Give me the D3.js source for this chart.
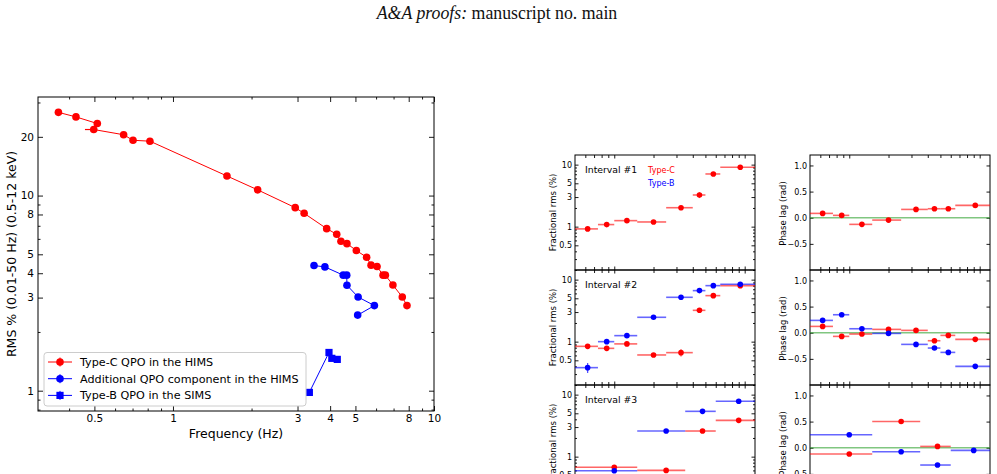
<!DOCTYPE html>
<html><head><meta charset="utf-8">
<script src="https://cdn.jsdelivr.net/npm/d3@7"></script>
<style>
body{margin:0;background:#fff;overflow:hidden;}
svg{display:block;font-family:"DejaVu Sans",sans-serif;}
</style></head><body>
<svg id="c" width="997" height="474"></svg>
<script>
// ---------- Left chart data ----------
const typeCFreq = [0.364,0.425,0.513,0.497,0.647,0.703,0.816,1.61,2.11,2.94,3.18,3.88,4.24,4.40,4.64,5.04,5.52,5.74,6.05,6.38,6.51,6.96,7.56,7.88];
const typeCRms  = [26.7,25.3,23.4,21.8,20.5,19.2,19.0,12.6,10.7,8.67,8.11,6.77,6.33,5.83,5.67,5.23,4.83,4.40,4.33,3.91,3.91,3.48,3.02,2.73];
const typeCFreqErrLo = [0,0,0,0.037,0,0,0,0,0,0,0,0,0,0,0,0,0,0,0,0,0,0,0,0];
const addlFreq = [3.47,3.82,4.49,4.63,4.64,5.12,5.91,5.10];
const addlRms  = [4.38,4.31,3.91,3.91,3.47,3.02,2.73,2.44];
const typeBFreq = [3.33,3.96,4.06,4.26];
const typeBRms  = [0.98,1.57,1.465,1.447];
const leftXTicks = [0.5,1,3,4,5,8,10];
const leftXMinor = [0.4,0.6,0.7,0.8,0.9,2,6,7,9];
const leftYTicks = [1,3,4,5,8,10,20];
const leftYMinor = [0.8,0.9,2,6,7,9,30];
const legendLabels = ["Type-C QPO in the HIMS","Additional QPO component in the HIMS","Type-B QPO in the SIMS"];

// ---------- Right panels data (energy keV) ----------
const binLoA = [0.5,0.75,1,1.5,2.5,4,5,6.5];
const binHiA = [0.75,1,1.5,2.5,4,5,6.5,12];
const binLoB = [0.5,1.5,3.5,6];
const binHiB = [1.5,3.5,6,12];
const int1RmsC = [0.92,1.08,1.25,1.19,2.02,3.24,7.07,9.06];
const int1RmsCErr = [0.04,0.04,0.05,0.05,0.08,0.35,0.3,0.35];
const int1LagC = [0.083,0.045,-0.127,-0.045,0.159,0.172,0.172,0.236];
const int1LagCErr = [0.03,0.03,0.02,0.04,0.04,0.04,0.04,0.03];
const int2RmsC = [0.84,0.78,0.92,0.61,0.665,3.20,5.52,8.0];
const int2RmsCErr = [0.04,0.04,0.05,0.04,0.09,0.2,0.3,0.4];
const int2RmsB = [0.381,1.0,1.25,2.47,5.19,6.65,8.0,8.41];
const int2RmsBErr = [0.07,0.05,0.05,0.1,0.2,0.3,0.3,0.4];
const int2LagC = [0.121,-0.070,-0.025,0.064,0.045,-0.153,-0.051,-0.127];
const int2LagB = [0.236,0.344,0.076,-0.013,-0.223,-0.293,-0.376,-0.643];
const int3RmsC = [0.673,0.60,2.59,3.85];
const int3RmsB = [0.594,2.59,5.38,7.81];
const int3LagC = [-0.121,0.503,0.025,null];
const int3LagB = [0.248,-0.076,-0.331,-0.051];
const intervalNames = ["Interval #1","Interval #2","Interval #3"];
const rmsTicks = [0.5,1,3,5,10];
const rmsMinor = [0.2,0.3,0.4,0.6,0.7,0.8,0.9,2,4,6,7,8,9];
const lagTicks = [-0.5,0,0.5,1.0];
const eTicks = [1,10];
const eMinor = [0.6,0.7,0.8,0.9,2,3,4,5,6,7,8,9];

const RED="#ff0000", BLUE="#0000ff";
const svg = d3.select("#c");

// ---------- Header ----------
const hdr = svg.append("text").attr("x",497).attr("y",19).attr("text-anchor","middle")
  .style("font-family","'Liberation Serif','Times New Roman',serif").style("font-size","17.8px").attr("fill","#111");
hdr.append("tspan").style("font-style","italic").text("A&A proofs:");
hdr.append("tspan").text(" manuscript no. main");

// ---------- Left chart ----------
const L = {x:38,y:97,w:396,h:314};
const x = d3.scaleLog().domain([0.304,10]).range([L.x,L.x+L.w]);
const y = d3.scaleLog().domain([0.787,32]).range([L.y+L.h,L.y]);
const g = svg.append("g");
function styleAxis(sel, fs){
  sel.select(".domain").remove();
  sel.selectAll("line").attr("stroke","#000").attr("stroke-width",0.9);
  sel.selectAll("text").style("font-family","'DejaVu Sans',sans-serif").style("font-size",fs).attr("fill","#000");
}
const fmtL = d=>String(d);
g.append("g").attr("transform",`translate(0,${L.y+L.h})`)
  .call(d3.axisBottom(x).tickValues(leftXTicks).tickFormat(fmtL).tickSize(-5).tickSizeOuter(0).tickPadding(4))
  .call(s=>styleAxis(s,"10.5px"));
g.append("g").attr("transform",`translate(0,${L.y+L.h})`)
  .call(d3.axisBottom(x).tickValues(leftXMinor).tickFormat("").tickSize(-2.5).tickSizeOuter(0)).call(s=>styleAxis(s,"10px"));
g.append("g").attr("transform",`translate(0,${L.y})`)
  .call(d3.axisTop(x).tickValues(leftXTicks).tickFormat("").tickSize(-5).tickSizeOuter(0)).call(s=>styleAxis(s,"10px"));
g.append("g").attr("transform",`translate(0,${L.y})`)
  .call(d3.axisTop(x).tickValues(leftXMinor).tickFormat("").tickSize(-2.5).tickSizeOuter(0)).call(s=>styleAxis(s,"10px"));
g.append("g").attr("transform",`translate(${L.x},0)`)
  .call(d3.axisLeft(y).tickValues(leftYTicks).tickFormat(fmtL).tickSize(-5).tickSizeOuter(0).tickPadding(4))
  .call(s=>styleAxis(s,"10.5px"));
g.append("g").attr("transform",`translate(${L.x},0)`)
  .call(d3.axisLeft(y).tickValues(leftYMinor).tickFormat("").tickSize(-2.5).tickSizeOuter(0)).call(s=>styleAxis(s,"10px"));
g.append("g").attr("transform",`translate(${L.x+L.w},0)`)
  .call(d3.axisRight(y).tickValues(leftYTicks).tickFormat("").tickSize(-5).tickSizeOuter(0)).call(s=>styleAxis(s,"10px"));
g.append("g").attr("transform",`translate(${L.x+L.w},0)`)
  .call(d3.axisRight(y).tickValues(leftYMinor).tickFormat("").tickSize(-2.5).tickSizeOuter(0)).call(s=>styleAxis(s,"10px"));
g.append("rect").attr("x",L.x).attr("y",L.y).attr("width",L.w).attr("height",L.h)
  .attr("fill","none").attr("stroke","#000").attr("stroke-width",1);
g.append("text").attr("x",L.x+L.w/2).attr("y",438).attr("text-anchor","middle")
  .style("font-size","12.5px").text("Frequency (Hz)");
g.append("text").attr("transform",`translate(16,${L.y+L.h/2}) rotate(-90)`).attr("text-anchor","middle")
  .style("font-size","12.5px").text("RMS % (0.01-50 Hz) (0.5-12 keV)");

const line = d3.line().x(d=>x(d[0])).y(d=>y(d[1]));
const cPts = typeCFreq.map((f,i)=>[f,typeCRms[i]]);
const aPts = addlFreq.map((f,i)=>[f,addlRms[i]]);
const bPts = typeBFreq.map((f,i)=>[f,typeBRms[i]]);
g.append("path").attr("d",line(cPts)).attr("fill","none").attr("stroke",RED).attr("stroke-width",1);
g.append("path").attr("d",line(aPts)).attr("fill","none").attr("stroke",BLUE).attr("stroke-width",1);
g.append("path").attr("d",line(bPts)).attr("fill","none").attr("stroke",BLUE).attr("stroke-width",1);
cPts.forEach((d,i)=>{ if(typeCFreqErrLo[i]>0){
  g.append("line").attr("x1",x(d[0]-typeCFreqErrLo[i])).attr("x2",x(d[0])).attr("y1",y(d[1])).attr("y2",y(d[1]))
   .attr("stroke",RED).attr("stroke-width",1.2);
}});
g.selectAll(".cc").data(cPts).enter().append("circle").attr("cx",d=>x(d[0])).attr("cy",d=>y(d[1])).attr("r",3.8).attr("fill",RED);
g.selectAll(".ac").data(aPts).enter().append("circle").attr("cx",d=>x(d[0])).attr("cy",d=>y(d[1])).attr("r",3.8).attr("fill",BLUE);
g.selectAll(".bs").data(bPts).enter().append("rect").attr("x",d=>x(d[0])-3.6).attr("y",d=>y(d[1])-3.6)
  .attr("width",7.2).attr("height",7.2).attr("fill",BLUE);

// legend
const lg = g.append("g");
lg.append("rect").attr("x",44).attr("y",352.5).attr("width",262).attr("height",53.5).attr("rx",3)
  .attr("fill","#fff").attr("fill-opacity",0.85).attr("stroke","#cccccc").attr("stroke-width",1);
const legColors=[RED,BLUE,BLUE], legShapes=["c","c","s"];
legendLabels.forEach((t,i)=>{
  const yy = 362+i*16.7;
  lg.append("line").attr("x1",48).attr("x2",72).attr("y1",yy).attr("y2",yy).attr("stroke",legColors[i]).attr("stroke-width",1);
  lg.append("line").attr("x1",60).attr("x2",60).attr("y1",yy-4.5).attr("y2",yy+4.5).attr("stroke",legColors[i]).attr("stroke-width",1);
  if(legShapes[i]==="c") lg.append("circle").attr("cx",60).attr("cy",yy).attr("r",3.8).attr("fill",legColors[i]);
  else lg.append("rect").attr("x",56.4).attr("y",yy-3.6).attr("width",7.2).attr("height",7.2).attr("fill",legColors[i]);
  lg.append("text").attr("x",80).attr("y",yy+4).style("font-size","11.2px").text(t);
});

// ---------- Right panels ----------
const colX=[575,810], rowY=[155,270,385], PW=180, PH=115;
const ex = d3.scaleLog().domain([0.5,12]);
function drawFrameAxes(pg, px, py, ys, yt, ym, yfmt){
  const xs = ex.copy().range([px,px+PW]);
  const ticks=(axis,vals,len,fmt)=>axis.tickValues(vals).tickFormat(fmt||"").tickSize(-len).tickSizeOuter(0);
  pg.append("g").attr("transform",`translate(0,${py+PH})`).call(ticks(d3.axisBottom(xs),eTicks,3.5)).call(s=>styleAxis(s,"8px"));
  pg.append("g").attr("transform",`translate(0,${py+PH})`).call(ticks(d3.axisBottom(xs),eMinor,3)).call(s=>styleAxis(s,"8px"));
  pg.append("g").attr("transform",`translate(0,${py})`).call(ticks(d3.axisTop(xs),eTicks,3.5)).call(s=>styleAxis(s,"8px"));
  pg.append("g").attr("transform",`translate(0,${py})`).call(ticks(d3.axisTop(xs),eMinor,3)).call(s=>styleAxis(s,"8px"));
  pg.append("g").attr("transform",`translate(${px},0)`).call(ticks(d3.axisLeft(ys),yt,3.5,yfmt).tickPadding(3)).call(s=>styleAxis(s,"8px"));
  pg.append("g").attr("transform",`translate(${px+PW},0)`).call(ticks(d3.axisRight(ys),yt,3.5)).call(s=>styleAxis(s,"8px"));
  if(ym){
    pg.append("g").attr("transform",`translate(${px},0)`).call(ticks(d3.axisLeft(ys),ym,2)).call(s=>styleAxis(s,"8px"));
    pg.append("g").attr("transform",`translate(${px+PW},0)`).call(ticks(d3.axisRight(ys),ym,2)).call(s=>styleAxis(s,"8px"));
  }
  pg.append("rect").attr("x",px).attr("y",py).attr("width",PW).attr("height",PH).attr("fill","none").attr("stroke","#000").attr("stroke-width",1);
  return xs;
}
function drawSeries(pg, xs, ys, lo, hi, vals, errs, color){
  vals.forEach((v,i)=>{
    if(v===null) return;
    const cx = xs((lo[i]+hi[i])/2), cy = ys(v);
    pg.append("line").attr("x1",xs(lo[i])).attr("x2",xs(hi[i])).attr("y1",cy).attr("y2",cy)
      .attr("stroke",color).attr("stroke-width",1.6).attr("stroke-opacity",0.6);
    if(errs && errs[i]){
      pg.append("line").attr("x1",cx).attr("x2",cx).attr("y1",ys(v-errs[i])).attr("y2",ys(v+errs[i]))
        .attr("stroke",color).attr("stroke-width",1.2).attr("stroke-opacity",0.7);
    }
    pg.append("circle").attr("cx",cx).attr("cy",cy).attr("r",2.8).attr("fill",color);
  });
}
const rmsFmt = d=>String(d);
const lagFmt = d=>d3.format(".1f")(d).replace("-","\u2212");
const rmsSets = [
  {lo:binLoA,hi:binHiA,s:[[int1RmsC,int1RmsCErr,RED]]},
  {lo:binLoA,hi:binHiA,s:[[int2RmsC,int2RmsCErr,RED],[int2RmsB,int2RmsBErr,BLUE]]},
  {lo:binLoB,hi:binHiB,s:[[int3RmsC,null,RED],[int3RmsB,null,BLUE]]}
];
const lagSets = [
  {lo:binLoA,hi:binHiA,s:[[int1LagC,int1LagCErr,RED]]},
  {lo:binLoA,hi:binHiA,s:[[int2LagC,null,RED],[int2LagB,null,BLUE]]},
  {lo:binLoB,hi:binHiB,s:[[int3LagC,null,RED],[int3LagB,null,BLUE]]}
];
const rp = svg.append("g");
rowY.forEach((py,r)=>{
  const px=colX[0];
  const ys = d3.scaleLog().domain([0.2,14.3]).range([py+PH,py]);
  const pg = rp.append("g");
  const xs = drawFrameAxes(pg,px,py,ys,rmsTicks,rmsMinor,rmsFmt);
  rmsSets[r].s.forEach(s=>drawSeries(pg,xs,ys,rmsSets[r].lo,rmsSets[r].hi,s[0],s[1],s[2]));
  pg.append("text").attr("transform",`translate(556,${py+PH/2}) rotate(-90)`).attr("text-anchor","middle")
    .style("font-size","8.5px").text("Fractional rms (%)");
  pg.append("text").attr("x",585).attr("y",py+18).style("font-size","9.3px").text(intervalNames[r]);
  if(r===0){
    pg.append("text").attr("x",648).attr("y",py+18).style("font-size","8px").attr("fill",RED).text("Type-C");
    pg.append("text").attr("x",648).attr("y",py+31).style("font-size","8px").attr("fill",BLUE).text("Type-B");
  }
  const qx=colX[1];
  const ly = d3.scaleLinear().domain([-1,1.2]).range([py+PH,py]);
  const qg = rp.append("g");
  const xs2 = drawFrameAxes(qg,qx,py,ly,lagTicks,null,lagFmt);
  qg.append("line").attr("x1",qx).attr("x2",qx+PW).attr("y1",ly(0)).attr("y2",ly(0))
    .attr("stroke","#2ca02c").attr("stroke-opacity",0.6).attr("stroke-width",1.3);
  lagSets[r].s.forEach(s=>drawSeries(qg,xs2,ly,lagSets[r].lo,lagSets[r].hi,s[0],s[1],s[2]));
  qg.append("text").attr("transform",`translate(786,${py+PH/2+1}) rotate(-90)`).attr("text-anchor","middle")
    .style("font-size","8.5px").text("Phase lag (rad)");
});
</script>
</body></html>
